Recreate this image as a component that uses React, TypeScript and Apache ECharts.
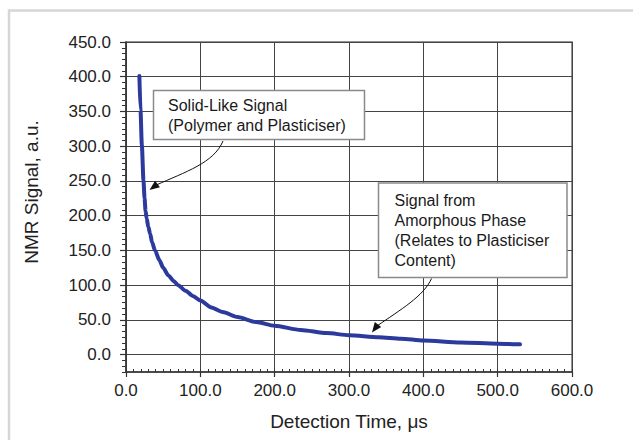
import React, { useEffect, useRef } from 'react';
import * as echarts from 'echarts';

// Detection time (µs) and NMR signal (a.u.)
const timeUs = [18, 19.5, 21.3, 23.5, 25, 26.3, 27.8, 30, 32.5, 35, 39, 45, 50, 57, 64, 70, 80, 90, 100, 115, 130, 150, 175, 200, 235, 270, 300, 340, 370, 400, 450, 500, 530];
const signal = [401, 352, 302, 251, 225, 207, 196, 184, 174, 162, 150, 136, 125, 114, 106, 100, 92, 84.5, 78, 68, 61.5, 54, 47, 41.5, 35.5, 31, 28, 25, 23, 20.3, 17.6, 15.7, 14.8];

const yMajorTicks = [0, 50, 100, 150, 200, 250, 300, 350, 400, 450];
const xAxisName = 'Detection Time, μs';
const yAxisName = 'NMR Signal, a.u.';
const note1Lines = ['Solid-Like Signal', '(Polymer and Plasticiser)'];
const note2Lines = ['Signal from', 'Amorphous Phase', '(Relates to Plasticiser', 'Content)'];

const FONT = 'Liberation Sans, Arial, Helvetica, sans-serif';

function arrowHead(tip: [number, number], dir: [number, number], len = 10, half = 4) {
  const bx = tip[0] - dir[0] * len;
  const by = tip[1] - dir[1] * len;
  const px = -dir[1] * half;
  const py = dir[0] * half;
  return [
    [tip[0], tip[1]],
    [bx + px, by + py],
    [bx - px, by - py],
  ];
}

export default function App() {
  const ref = useRef<HTMLDivElement>(null);
  useEffect(() => {
    if (!ref.current) return;
    const chart = echarts.init(ref.current, null, { renderer: 'svg' });
    const data = timeUs.map((t, i) => [t, signal[i]]);
    const tip1: [number, number] = [149.5, 190];
    const dir1: [number, number] = [-0.8, 0.6];
    const tip2: [number, number] = [372, 332.5];
    const dir2: [number, number] = [-0.6, 0.8];
    chart.setOption({
      animation: false,
      backgroundColor: '#ffffff',
      grid: {
        left: 126, top: 42, width: 446, height: 330,
        show: true, borderColor: '#707070', borderWidth: 1.5, backgroundColor: 'transparent',
      },
      xAxis: [
        {
          type: 'value', min: 0, max: 600, interval: 100, position: 'bottom',
          axisLine: { show: true, onZero: false, lineStyle: { color: '#333', width: 1.5 } },
          axisTick: { show: true, inside: false, length: 5, lineStyle: { color: '#333', width: 1.2 } },
          axisLabel: { margin: 10, fontSize: 17, color: '#222', fontFamily: FONT, formatter: (v: number) => v.toFixed(1) },
          splitLine: { show: true, lineStyle: { color: '#444', width: 1 } },
          name: xAxisName, nameLocation: 'middle', nameGap: 40,
          nameTextStyle: { fontSize: 19, color: '#222', fontFamily: FONT },
        },
        {
          type: 'value', min: 0, max: 600, interval: 10, position: 'bottom',
          axisLine: { show: false, onZero: false },
          axisTick: { show: true, inside: true, length: 3, lineStyle: { color: '#333', width: 1 } },
          axisLabel: { show: false },
          splitLine: { show: false },
        },
      ],
      yAxis: [
        {
          type: 'value', min: -25, max: 450, position: 'left',
          axisLine: { show: true, onZero: false, lineStyle: { color: '#333', width: 1.5 } },
          axisTick: { show: true, inside: false, length: 6, customValues: yMajorTicks, lineStyle: { color: '#333', width: 1.2 } },
          axisLabel: { margin: 15, fontSize: 17, color: '#222', fontFamily: FONT, customValues: yMajorTicks, formatter: (v: number) => v.toFixed(1) },
          splitLine: { show: true, lineStyle: { color: '#444', width: 1 } },
        },
        {
          type: 'value', min: -25, max: 450, interval: 25 / 3, position: 'left',
          axisLine: { show: false, onZero: false },
          axisTick: { show: true, inside: false, length: 4, lineStyle: { color: '#333', width: 1 } },
          axisLabel: { show: false },
          splitLine: { show: false },
        },
      ],
      series: [
        {
          type: 'line', xAxisIndex: 0, yAxisIndex: 0, data,
          showSymbol: false, smooth: 0.25, smoothMonotone: 'x',
          lineStyle: { color: '#2b3a9c', width: 4, cap: 'round', join: 'round' },
          z: 5,
        },
      ],
      graphic: [
        {
          type: 'rect', z: 0, silent: true,
          shape: { x: 9, y: 10.5, width: 700, height: 500 },
          style: { fill: 'none', stroke: '#d6d6d6', lineWidth: 2.5 },
        },
        {
          type: 'text', x: 31, y: 192, rotation: Math.PI / 2, z: 10,
          style: { text: yAxisName, font: `19px ${FONT}`, fill: '#222', align: 'center', verticalAlign: 'middle' },
        },
        {
          type: 'rect', z: 100,
          shape: { x: 153.5, y: 90.5, width: 211, height: 49 },
          style: { fill: '#ffffff', stroke: '#8a8a8a', lineWidth: 1.5 },
        },
        {
          type: 'text', x: 168, y: 95, z: 101,
          style: { text: note1Lines.join('\n'), font: `16px ${FONT}`, lineHeight: 20, fill: '#1a1a1a', align: 'left', verticalAlign: 'top' },
        },
        {
          type: 'rect', z: 100,
          shape: { x: 378.5, y: 183, width: 188.5, height: 94.5 },
          style: { fill: '#ffffff', stroke: '#8a8a8a', lineWidth: 1.5 },
        },
        {
          type: 'text', x: 394.5, y: 190.7, z: 101,
          style: { text: note2Lines.join('\n'), font: `16px ${FONT}`, lineHeight: 20, fill: '#1a1a1a', align: 'left', verticalAlign: 'top' },
        },
        {
          type: 'bezierCurve', z: 102,
          shape: { x1: 223, y1: 141, cpx1: 214, cpy1: 163, cpx2: 185, cpy2: 172, x2: tip1[0] - dir1[0] * 8, y2: tip1[1] - dir1[1] * 8 },
          style: { stroke: '#111', lineWidth: 1, fill: 'none' },
        },
        {
          type: 'polygon', z: 102,
          shape: { points: arrowHead(tip1, dir1) },
          style: { fill: '#111' },
        },
        {
          type: 'bezierCurve', z: 102,
          shape: { x1: 431.5, y1: 278.5, cpx1: 424, cpy1: 296, cpx2: 400, cpy2: 310, x2: tip2[0] - dir2[0] * 8, y2: tip2[1] - dir2[1] * 8 },
          style: { stroke: '#111', lineWidth: 1, fill: 'none' },
        },
        {
          type: 'polygon', z: 102,
          shape: { points: arrowHead(tip2, dir2) },
          style: { fill: '#111' },
        },
      ],
    });
    return () => chart.dispose();
  }, []);
  return (
    <div
      ref={ref}
      style={{ position: 'fixed', left: 0, top: 0, width: 633, height: 440, background: '#fff' }}
    />
  );
}
